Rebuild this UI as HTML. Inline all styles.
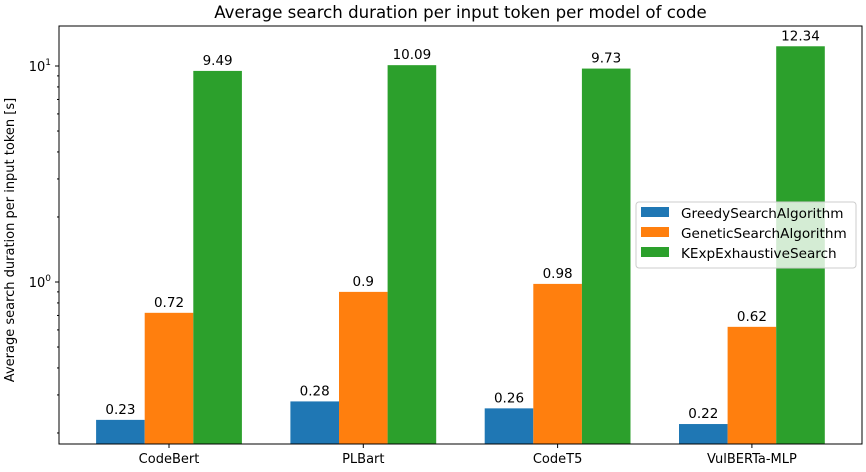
<!DOCTYPE html>
<html><head><meta charset="utf-8"><style>body{margin:0;background:#fff}svg{display:block;font-family:"DejaVu Sans","Liberation Sans",sans-serif}</style></head>
<body>
<svg id="chart" width="866" height="472"></svg>
<script>
const categories=["CodeBert","PLBart","CodeT5","VulBERTa-MLP"];
const seriesNames=["GreedySearchAlgorithm","GeneticSearchAlgorithm","KExpExhaustiveSearch"];
const greedy=[0.23,0.28,0.26,0.22];
const genetic=[0.72,0.9,0.98,0.62];
const kexp=[9.49,10.09,9.73,12.34];
const labelsGreedy=["0.23","0.28","0.26","0.22"];
const labelsGenetic=["0.72","0.9","0.98","0.62"];
const labelsKexp=["9.49","10.09","9.73","12.34"];
const colors=["#1f77b4","#ff7f0e","#2ca02c"];
const NS="http://www.w3.org/2000/svg";
const svg=document.getElementById('chart');
const L=59,R=862,T=26,B=444;
const y0=282,dec=216;
function y(v){return y0-Math.log10(v)*dec;}
const gc0=169,gstep=194.3,bw=48.6;
function x(i){return gc0+i*gstep;}
function mk(t,a,txt){const e=document.createElementNS(NS,t);for(const k in a)e.setAttribute(k,a[k]);if(txt!==undefined)e.textContent=txt;svg.appendChild(e);return e;}
let e=mk('text',{x:(L+R)/2,y:18,'text-anchor':'middle','font-size':16.6},'Average search duration per input token per model of code');


const series=[greedy,genetic,kexp],labs=[labelsGreedy,labelsGenetic,labelsKexp];
series.forEach((s,si)=>{s.forEach((v,i)=>{
 const bx=x(i)+(si-1)*bw-bw/2;
 const r=mk('rect',{x:bx,y:y(v),width:bw,height:B-y(v),fill:colors[si]});
 
 
 const t=mk('text',{x:bx+bw/2,y:y(v)-6,'text-anchor':'middle','font-size':13.5},labs[si][i]);
 
 
});});
mk('rect',{x:L,y:T,width:R-L,height:B-T,fill:'none',stroke:'#000','stroke-width':1});
categories.forEach((c,i)=>{
 mk('line',{x1:x(i),x2:x(i),y1:B,y2:B+4,stroke:'#000'});
 const t=mk('text',{x:x(i),y:B+19,'text-anchor':'middle','font-size':13},c);
 
 
});
[0.1,1,10].forEach(d=>{for(let m=1;m<10;m++){const v=d*m;const yy=y(v);if(yy<T||yy>B)continue;
 if(m===1){mk('line',{x1:L-4,x2:L,y1:yy,y2:yy,stroke:'#000'});
  const t=mk('text',{x:L-8,y:yy+5,'text-anchor':'end','font-size':13},'10');
  const s=document.createElementNS(NS,'tspan');s.setAttribute('dy','-6');s.setAttribute('font-size','9');s.textContent=d===1?'0':'1';t.appendChild(s);
  
  
 } else mk('line',{x1:L-2,x2:L,y1:yy,y2:yy,stroke:'#000'});}});
e=mk('text',{x:0,y:0,'text-anchor':'middle','font-size':13,transform:`translate(14,240) rotate(-90)`},'Average search duration per input token [s]');


const lg=mk('rect',{x:636,y:202,width:220,height:66,fill:'#fff','fill-opacity':0.8,stroke:'#ccc',rx:3});


seriesNames.forEach((n,i)=>{
 mk('rect',{x:641,y:207+i*20,width:28,height:10,fill:colors[i]});
 const t=mk('text',{x:681,y:218+i*20,'font-size':13.6},n);
 
 
});
</script>
</body></html>
